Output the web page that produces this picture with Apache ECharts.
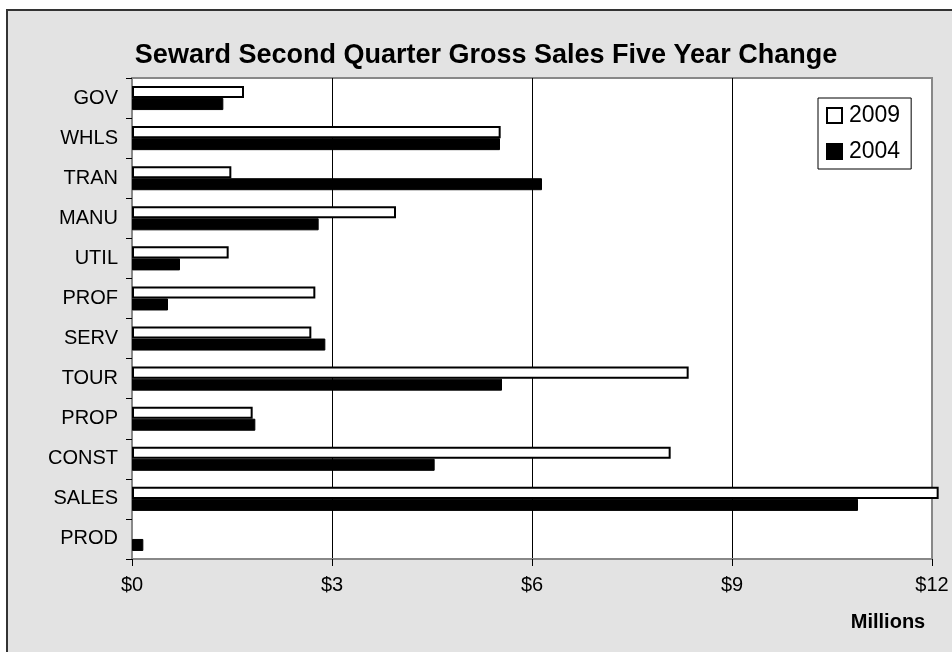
<!DOCTYPE html>
<html>
<head>
<meta charset="utf-8">
<script src="https://cdn.jsdelivr.net/npm/echarts@6/dist/echarts.min.js"></script>
<style>
html,body{margin:0;padding:0;background:#fff;}
#chart{width:952px;height:652px;}
</style>
</head>
<body>
<div id="chart"></div>
<script>
var categories = ['GOV','WHLS','TRAN','MANU','UTIL','PROF','SERV','TOUR','PROP','CONST','SALES','PROD'];
var values2009 = [1.68, 5.53, 1.49, 3.96, 1.45, 2.75, 2.69, 8.35, 1.81, 8.08, 12.1, null];
var values2004 = [1.37, 5.52, 6.15, 2.80, 0.72, 0.54, 2.90, 5.55, 1.85, 4.54, 10.89, 0.17];
var xTicks = {min: 0, max: 12, interval: 3};
var titleText = 'Seward Second Quarter Gross Sales Five Year Change';
var axisUnit = 'Millions';

var FONT = '"Liberation Sans", Arial, sans-serif';
var chart = echarts.init(document.getElementById('chart'));
chart.setOption({
  backgroundColor: '#ffffff',
  animation: false,
  graphic: [
    {type: 'rect', z: -10, shape: {x: 7, y: 10, width: 960, height: 660},
     style: {fill: '#e3e3e3', stroke: '#333333', lineWidth: 2}},
    {type: 'text', x: 486, y: 56, style: {text: titleText, font: 'bold 27px ' + FONT,
      fill: '#000', textAlign: 'center', textVerticalAlign: 'middle'}},
    {type: 'text', x: 888, y: 622, style: {text: axisUnit, font: 'bold 20px ' + FONT,
      fill: '#000', textAlign: 'center', textVerticalAlign: 'middle'}}
  ],
  grid: {left: 132, right: 20, top: 78, height: 481, show: true,
    backgroundColor: '#ffffff', borderColor: '#888888', borderWidth: 2},
  legend: {
    orient: 'vertical', left: 818, top: 98,
    data: ['2009', '2004'],
    backgroundColor: '#ffffff', borderColor: '#000', borderWidth: 1,
    padding: [6, 11, 6, 8], itemGap: 13, itemWidth: 15, itemHeight: 15,
    icon: 'rect',
    textStyle: {fontSize: 23, fontFamily: FONT, color: '#000', padding: [0, 0, 0, 2]}
  },
  xAxis: {
    type: 'value', min: xTicks.min, max: xTicks.max, interval: xTicks.interval,
    axisLine: {show: true, lineStyle: {color: '#888888', width: 2}},
    axisTick: {show: true, length: 7, lineStyle: {color: '#000', width: 1}},
    axisLabel: {formatter: '${value}', fontSize: 20, fontFamily: FONT, color: '#000', margin: 16},
    splitLine: {show: true, lineStyle: {color: ['#888888', '#000', '#000', '#000', '#888888'], width: 1}}
  },
  yAxis: {
    type: 'category', data: categories, inverse: true,
    axisLine: {show: true, lineStyle: {color: '#888888', width: 2}},
    axisTick: {show: true, length: 6, lineStyle: {color: '#000', width: 1}},
    axisLabel: {fontSize: 20, fontFamily: FONT, color: '#000', margin: 14}
  },
  series: [
    {name: '2009', type: 'bar', data: values2009, barCategoryGap: '40%', barGap: '0%',
     clip: false,
     itemStyle: {color: '#ffffff', borderColor: '#000', borderWidth: 2}},
    {name: '2004', type: 'bar', data: values2004, barCategoryGap: '40%', barGap: '0%',
     itemStyle: {color: '#000', borderColor: '#000', borderWidth: 1}}
  ]
});
</script>
</body>
</html>
